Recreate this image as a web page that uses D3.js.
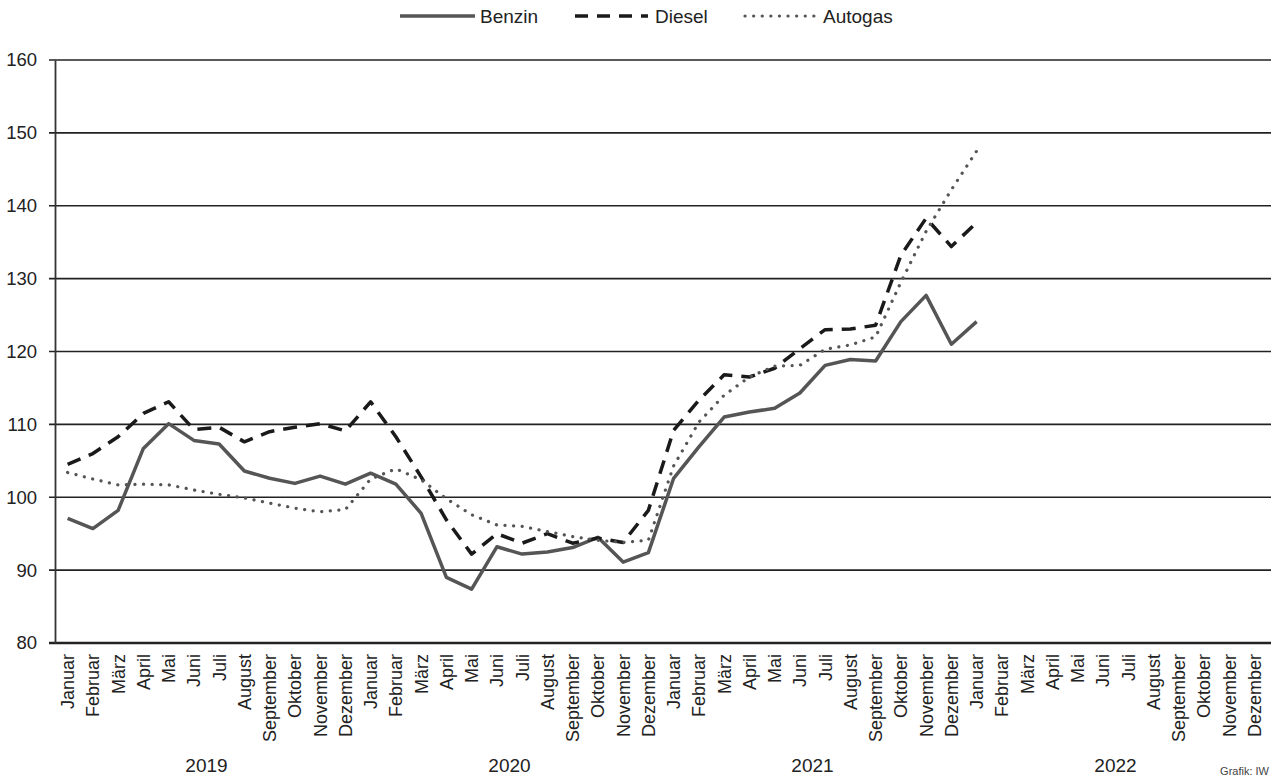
<!DOCTYPE html>
<html>
<head>
<meta charset="utf-8">
<script src="https://cdn.jsdelivr.net/npm/d3@7"></script>
<style>
  body { margin: 0; background: #fff; }
  svg { display: block; font-family: "Liberation Sans", Arial, sans-serif; }
</style>
</head>
<body>
<div id="chart"></div>
<script>
// Monthly labels and years
const months = ["Januar", "Februar", "März", "April", "Mai", "Juni", "Juli",
  "August", "September", "Oktober", "November", "Dezember"];
const years = ["2019", "2020", "2021", "2022"];

// Index values, Januar 2019 .. Januar 2022
const benzin = [97.1, 95.7, 98.2, 106.7, 110.1, 107.8, 107.3, 103.6, 102.6, 101.9, 102.9, 101.8,
  103.3, 101.8, 97.8, 89.0, 87.4, 93.2, 92.2, 92.5, 93.1, 94.5, 91.1, 92.4,
  102.6, 106.9, 111.0, 111.7, 112.2, 114.3, 118.1, 118.9, 118.7, 124.1, 127.7, 121.0,
  124.1];
const diesel = [104.5, 106.0, 108.3, 111.5, 113.1, 109.3, 109.6, 107.6, 109.0, 109.6, 110.1, 109.1,
  113.1, 108.3, 102.8, 96.9, 92.2, 95.0, 93.7, 95.0, 93.7, 94.4, 93.8, 98.2,
  109.2, 113.3, 116.8, 116.5, 117.7, 120.4, 123.0, 123.1, 123.6, 133.2, 138.3, 134.4,
  137.7];
const autogas = [103.4, 102.5, 101.7, 101.8, 101.7, 101.0, 100.4, 99.9, 99.2, 98.5, 98.0, 98.3,
  102.5, 103.9, 102.4, 99.8, 97.6, 96.2, 96.0, 95.3, 94.6, 94.1, 93.8, 94.1,
  104.3, 110.3, 114.0, 116.5, 118.0, 118.1, 120.3, 120.9, 122.0, 129.5, 136.5, 142.2,
  147.5];
const yTicks = [80, 90, 100, 110, 120, 130, 140, 150, 160];

const width = 1271;
const height = 776;
const margin = { top: 60, right: 4, bottom: 133, left: 55 };

const svg = d3.select("#chart").append("svg")
    .attr("width", width)
    .attr("height", height);

const slots = d3.range(years.length * months.length);

const x = d3.scaleBand()
    .domain(slots)
    .range([margin.left, width - margin.right]);

const y = d3.scaleLinear()
    .domain([80, 160])
    .range([height - margin.bottom, margin.top]);

// Horizontal grid
svg.append("g")
  .selectAll("line")
  .data(yTicks)
  .join("line")
    .attr("x1", margin.left - 6)
    .attr("x2", width)
    .attr("y1", d => y(d))
    .attr("y2", d => y(d))
    .attr("stroke", "#222")
    .attr("stroke-width", d => d == 80 ? 2.4 : 1.6);

// Y axis
const yAxis = svg.append("g")
    .attr("transform", `translate(${margin.left},0)`)
    .call(d3.axisLeft(y).tickValues(yTicks).tickSize(0).tickPadding(18));
yAxis.select(".domain")
    .attr("stroke", "#333")
    .attr("stroke-width", 1.8);
yAxis.selectAll("text")
    .attr("font-size", 18.5)
    .attr("fill", "#222")
    .attr("font-family", "Liberation Sans, Arial, sans-serif");

// X axis labels (rotated months)
svg.append("g")
  .selectAll("text")
  .data(slots)
  .join("text")
    .attr("transform", d => `translate(${x(d) + x.bandwidth() / 2 + 6.5},${height - margin.bottom + 11}) rotate(-90)`)
    .attr("text-anchor", "end")
    .attr("font-size", 18)
    .attr("fill", "#222")
    .text(d => months[d % 12]);

// Year labels
svg.append("g")
  .selectAll("text")
  .data(years)
  .join("text")
    .attr("x", (d, i) => (x(i * 12) + x(i * 12 + 11) + x.bandwidth()) / 2)
    .attr("y", 772)
    .attr("text-anchor", "middle")
    .attr("font-size", 19)
    .attr("fill", "#222")
    .text(d => d);

// Series lines
const series = [
  { name: "Benzin", values: benzin, color: "#555", width: 3.5, dash: null, cap: "butt" },
  { name: "Diesel", values: diesel, color: "#1a1a1a", width: 3.5, dash: "14,9", cap: "butt" },
  { name: "Autogas", values: autogas, color: "#555", width: 3.2, dash: "0.1,8.5", cap: "round" },
];

const line = d3.line()
    .x((d, i) => x(i) + x.bandwidth() / 2)
    .y(d => y(d));

svg.append("g")
  .selectAll("path")
  .data(series)
  .join("path")
    .attr("fill", "none")
    .attr("stroke", d => d.color)
    .attr("stroke-width", d => d.width)
    .attr("stroke-dasharray", d => d.dash)
    .attr("stroke-linecap", d => d.cap)
    .attr("stroke-linejoin", "round")
    .attr("d", d => line(d.values));

// Legend
const legendPos = [
  { x1: 400, x2: 475, tx: 480 },
  { x1: 575, x2: 648, tx: 655 },
  { x1: 745, x2: 820, tx: 823 },
];
const legend = svg.append("g")
  .selectAll("g")
  .data(series)
  .join("g");

legend.append("line")
    .attr("x1", (d, i) => legendPos[i].x1)
    .attr("x2", (d, i) => legendPos[i].x2)
    .attr("y1", 16)
    .attr("y2", 16)
    .attr("stroke", d => d.color)
    .attr("stroke-width", d => d.width)
    .attr("stroke-dasharray", d => d.name == "Diesel" ? "13,9" : d.dash)
    .attr("stroke-linecap", d => d.cap);

legend.append("text")
    .attr("x", (d, i) => legendPos[i].tx)
    .attr("y", 23)
    .attr("font-size", 19)
    .attr("fill", "#222")
    .text(d => d.name);

// Source note
svg.append("text")
    .attr("x", 1269)
    .attr("y", 775)
    .attr("text-anchor", "end")
    .attr("font-size", 11)
    .attr("fill", "#444")
    .text("Grafik: IW");
</script>
</body>
</html>
